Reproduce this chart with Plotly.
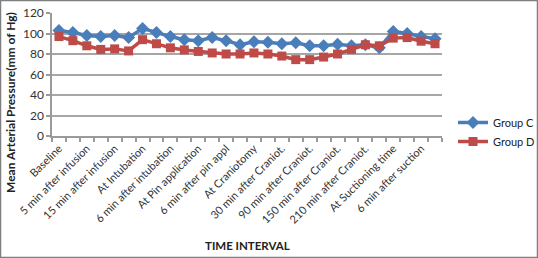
import plotly.graph_objects as go

tick_labels = ["Baseline", "5 min after infusion", "15 min after infusion", "At Intubation",
               "6 min after intubation", "At Pin application", "6 min after pin appl",
               "At Craniotomy", "30 min after Craniot.", "90 min after Craniot.",
               "150 min after Craniot.", "210 min after Craniot.", "At Suctioning time",
               "6 min after suction"]
time_index = list(range(28))
group_c = [103, 101, 98, 97, 98, 96, 105, 101, 97, 94, 93, 96, 93, 89,
           92, 91.5, 90, 91, 88, 88, 89.5, 88, 89, 86, 102, 100, 97, 95]
group_d = [97, 93, 88, 84.5, 85, 83, 94, 90, 86, 84, 82.5, 81, 80, 80,
           81, 80, 78, 74.5, 74.5, 77, 80, 84.5, 89, 88, 95.5, 96, 92.5, 90]

W, H = 538, 258
L, R, T, B = 52, 96, 13, 122
pw, ph = W - L - R, H - T - B


def px_x(x):
    return (x - L) / pw


def px_y(y):
    return (T + ph - y) / ph


fig = go.Figure()
fig.add_trace(go.Scatter(x=time_index, y=group_c, name="Group C", mode="lines+markers",
                         line=dict(color="#4A7EBB", width=3.5),
                         marker=dict(symbol="diamond", size=10, color="#4A7EBB")))
fig.add_trace(go.Scatter(x=time_index, y=group_d, name="Group D", mode="lines+markers",
                         line=dict(color="#BE4B48", width=3.5),
                         marker=dict(symbol="square", size=9, color="#BE4B48")))

fig.update_layout(
    width=W, height=H,
    margin=dict(l=L, r=R, t=T, b=B, autoexpand=False),
    paper_bgcolor="white", plot_bgcolor="white",
    font=dict(family="Lato, Open Sans, sans-serif", color="#333333", size=11),
    showlegend=True,
    legend=dict(x=px_x(453), y=px_y(108), xanchor="left", yanchor="top",
                font=dict(size=11, color="#222222"), bgcolor="rgba(0,0,0,0)"),
    xaxis=dict(range=[-0.5, 27.5], tickmode="array",
               tickvals=time_index[::2], ticktext=tick_labels,
               tickangle=-45, ticks="", showgrid=False, automargin=False,
               showline=True, linecolor="#9a9a9a", linewidth=1.5,
               tickfont=dict(size=11, color="#333333"),
               minor=dict(ticks="outside", tick0=-0.5, dtick=1, ticklen=4,
                          tickcolor="#9a9a9a", tickwidth=1.5, showgrid=False),
               zeroline=False),
    yaxis=dict(range=[0, 120], tickvals=[0, 20, 40, 60, 80, 100, 120],
               showgrid=True, gridcolor="#a6a6a6", gridwidth=1.5, automargin=False,
               showline=True, linecolor="#9a9a9a", linewidth=1.5,
               ticks="outside", ticklen=4, tickcolor="#9a9a9a", tickwidth=1.5,
               tickfont=dict(size=12, color="#333333"),
               zeroline=False),
    annotations=[
        dict(text="<b>Mean Arterial Pressure(mm of Hg)</b>", xref="paper", yref="paper",
             x=px_x(10), y=px_y(103), textangle=-90, showarrow=False,
             font=dict(size=12, color="#222222"), xanchor="center", yanchor="middle"),
        dict(text="<b>TIME INTERVAL</b>", xref="paper", yref="paper",
             x=px_x(247), y=px_y(245), showarrow=False,
             font=dict(size=11.5, color="#222222"), xanchor="center", yanchor="middle"),
    ],
    shapes=[dict(type="rect", xref="paper", yref="paper",
                 x0=px_x(0.5), x1=px_x(W - 0.5),
                 y0=px_y(H - 0.5), y1=px_y(0.5),
                 line=dict(color="#7f7f7f", width=1.5), fillcolor="rgba(0,0,0,0)")],
)

fig.write_html("out.html", config={"displayModeBar": False},
               post_script="document.body.style.margin='0';document.body.style.overflow='hidden';")
